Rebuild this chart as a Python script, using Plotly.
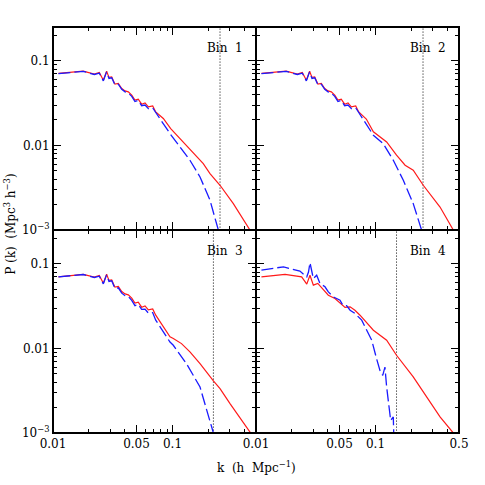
import numpy as np
import plotly.graph_objects as go
from plotly.subplots import make_subplots

# low-k part shared by bins 1-3
k_lo = [0.0111, 0.0179, 0.0222, 0.0244, 0.0264, 0.0281, 0.0294, 0.031, 0.033, 0.0352,
        0.0376, 0.0401, 0.0427, 0.0456, 0.0485, 0.0517, 0.0552, 0.0589, 0.0628, 0.0683, 0.0724]

# Bin 1
k1_red = k_lo + [0.0838, 0.0966, 0.1155, 0.1447, 0.181, 0.206, 0.25, 0.323, 0.445, 0.52]
p1_red = [0.071, 0.0755, 0.0697, 0.073, 0.059, 0.0755, 0.0637, 0.0647, 0.053, 0.054,
          0.0471, 0.0441, 0.043, 0.0393, 0.0343, 0.0352, 0.0307, 0.0318, 0.0286, 0.0293, 0.0249,
          0.0208, 0.0158, 0.0121, 0.00877, 0.0061, 0.00465, 0.00338, 0.00205, 0.001, 0.00078]
k1_blue = k_lo + [0.0953, 0.1155, 0.14, 0.17, 0.206, 0.242, 0.25]
p1_blue = [0.0705, 0.075, 0.069, 0.0715, 0.058, 0.074, 0.062, 0.063, 0.052, 0.053,
           0.046, 0.043, 0.0415, 0.038, 0.033, 0.034, 0.0295, 0.030, 0.0272, 0.0278, 0.0245,
           0.0138, 0.0096, 0.00668, 0.00424, 0.00225, 0.001, 0.0008]

# Bin 2
k2_red = k_lo + [0.0838, 0.096, 0.124, 0.150, 0.177, 0.207, 0.251, 0.347, 0.448, 0.52]
p2_red = [0.071, 0.0755, 0.0697, 0.073, 0.059, 0.0755, 0.0637, 0.0647, 0.053, 0.054,
          0.0471, 0.0441, 0.043, 0.0393, 0.0343, 0.0352, 0.0307, 0.0318, 0.0286, 0.0293, 0.0249,
          0.0205, 0.0145, 0.011, 0.00766, 0.00583, 0.0051, 0.00338, 0.00187, 0.001, 0.00075]
k2_blue = k_lo + [0.096, 0.116, 0.141, 0.171, 0.207, 0.243, 0.25]
p2_blue = [0.0705, 0.075, 0.069, 0.0715, 0.058, 0.074, 0.062, 0.063, 0.052, 0.053,
           0.046, 0.043, 0.0415, 0.038, 0.033, 0.034, 0.0295, 0.030, 0.0272, 0.0278, 0.0245,
           0.0132, 0.0105, 0.00668, 0.00387, 0.00205, 0.001, 0.0008]

# Bin 3
k3_red = k_lo + [0.0953, 0.1016, 0.119, 0.14, 0.17, 0.22, 0.25, 0.303, 0.445, 0.52]
p3_red = [0.0702, 0.075, 0.0697, 0.073, 0.059, 0.0755, 0.0637, 0.0647, 0.053, 0.054,
          0.0471, 0.0441, 0.043, 0.0393, 0.0343, 0.0352, 0.0307, 0.0318, 0.0286, 0.0293, 0.0247,
          0.0137, 0.0131, 0.0114, 0.0091, 0.0066, 0.00412, 0.00335, 0.00223, 0.001, 0.00075]
k3_blue = k_lo + [0.0953, 0.1016, 0.131, 0.17, 0.213, 0.22, 0.225]
p3_blue = [0.07, 0.0748, 0.069, 0.0715, 0.058, 0.074, 0.062, 0.063, 0.051, 0.052,
           0.045, 0.042, 0.041, 0.037, 0.032, 0.033, 0.029, 0.0292, 0.0262, 0.0265, 0.0216,
           0.0119, 0.0109, 0.0066, 0.0035, 0.00118, 0.001, 0.0008]

# Bin 4
k4_red = [0.0111, 0.0175, 0.0241, 0.0266, 0.0283, 0.0302, 0.0329, 0.0366, 0.0403, 0.0458,
          0.0505, 0.0556, 0.0613, 0.0673, 0.0742, 0.096, 0.124, 0.150, 0.207, 0.268, 0.347, 0.448, 0.52]
p4_red = [0.0702, 0.075, 0.0702, 0.0575, 0.0734, 0.056, 0.0586, 0.0489, 0.0426, 0.0389,
          0.034, 0.0305, 0.031, 0.0283, 0.0247, 0.0164, 0.0125, 0.0083, 0.0046, 0.00267, 0.00155, 0.001, 0.00078]
k4_blue = [0.0111, 0.017, 0.0233, 0.0266, 0.0275, 0.0283, 0.0302, 0.0322, 0.0343, 0.0378,
           0.0403, 0.0443, 0.0505, 0.0532, 0.0573, 0.0613, 0.0673, 0.0767, 0.0845, 0.093,
           0.102, 0.109, 0.115, 0.12, 0.124, 0.132, 0.134, 0.141, 0.143, 0.143]
p4_blue = [0.0842, 0.0922, 0.082, 0.0702, 0.08, 0.103, 0.067, 0.0734, 0.0586, 0.0535,
           0.0466, 0.0407, 0.0372, 0.0325, 0.032, 0.0283, 0.0259, 0.0216, 0.0164, 0.0125,
           0.0076, 0.0055, 0.0048, 0.006, 0.0035, 0.00186, 0.00141, 0.00155, 0.001, 0.0007]

k_red = [k1_red, k2_red, k3_red, k4_red]
p_red = [p1_red, p2_red, p3_red, p4_red]
k_blue = [k1_blue, k2_blue, k3_blue, k4_blue]
p_blue = [p1_blue, p2_blue, p3_blue, p4_blue]
k_cut = [0.25, 0.25, 0.22, 0.15]
bins = ["Bin 1", "Bin 2", "Bin 3", "Bin 4"]

x_major = [0.01, 0.05, 0.1, 0.5]
x_minor = [0.02, 0.03, 0.04, 0.06, 0.07, 0.08, 0.09, 0.2, 0.3, 0.4]
y_major = [0.001, 0.01, 0.1]
y_major_text = ["10<sup>\u22123</sup>", "0.01", "0.1"]
y_minor = [m * 10.0 ** e for e in (-3, -2, -1) for m in range(2, 10)]

fnt = "DejaVu Serif"
fig = make_subplots(rows=2, cols=2, horizontal_spacing=0, vertical_spacing=0)

for i in range(4):
    r, c = i // 2 + 1, i % 2 + 1
    fig.add_trace(go.Scatter(x=[k_cut[i], k_cut[i]], y=[1e-4, 1], mode="lines",
                             line=dict(color="black", width=1, dash="1px,2px")), row=r, col=c)
    fig.add_trace(go.Scatter(x=k_red[i], y=p_red[i], mode="lines",
                             line=dict(color="#ff1a1a", width=1.2)), row=r, col=c)
    fig.add_trace(go.Scatter(x=k_blue[i], y=p_blue[i], mode="lines",
                             line=dict(color="#1a1aff", width=1.3, dash="12px,4px")), row=r, col=c)
    xn = "x" if i == 0 else "x%d" % (i + 1)
    yn = "y" if i == 0 else "y%d" % (i + 1)
    fig.add_annotation(text=bins[i].replace(" ", " \u00a0"), x=0.945, y=0.895,
                       xref=xn + " domain", yref=yn + " domain", xanchor="right", yanchor="middle",
                       showarrow=False, font=dict(size=12))
    # panel frame, so shared edges do not double up
    fig.add_shape(type="rect", x0=0, x1=1, y0=0, y1=1, xref=xn + " domain", yref=yn + " domain",
                  line=dict(color="black", width=2), layer="above")

fig.update_xaxes(type="log", range=[-2, np.log10(0.5)], tickmode="array", tickvals=x_major,
                 ticktext=["0.01", "0.05", "0.1", "0.5"], ticks="inside", ticklen=8, tickwidth=1,
                 tickcolor="black", showline=True, linewidth=1, linecolor="black", mirror="ticks",
                 showgrid=False, zeroline=False,
                 minor=dict(tickmode="array", tickvals=x_minor, ticks="inside", ticklen=4,
                            tickwidth=1, tickcolor="black", showgrid=False))
fig.update_yaxes(type="log", range=[-3, -0.6], tickmode="array", tickvals=y_major,
                 ticktext=y_major_text, ticks="inside", ticklen=8, tickwidth=1,
                 tickcolor="black", showline=True, linewidth=1, linecolor="black", mirror="ticks",
                 showgrid=False, zeroline=False,
                 minor=dict(tickmode="array", tickvals=y_minor, ticks="inside", ticklen=4,
                            tickwidth=1, tickcolor="black", showgrid=False))
fig.update_xaxes(showticklabels=False, row=1)
fig.update_xaxes(ticktext=["0.01", "0.05", "0.1", ""], row=2, col=1)
fig.update_yaxes(showticklabels=False, col=2)

fig.add_annotation(text="P (k) \u00a0(Mpc<sup>3</sup> h<sup>\u22123</sup>)", x=-0.106, y=0.515,
                   xref="paper", yref="paper", textangle=-90, showarrow=False,
                   xanchor="center", yanchor="middle", font=dict(size=12))
fig.add_annotation(text="k \u00a0(h \u00a0Mpc<sup>\u22121</sup>)", x=0.5, y=-0.084,
                   xref="paper", yref="paper", showarrow=False,
                   xanchor="center", yanchor="middle", font=dict(size=12))

fig.update_layout(width=485, height=485, margin=dict(l=53, r=26, t=27, b=52),
                  showlegend=False, plot_bgcolor="white", paper_bgcolor="white",
                  font=dict(family=fnt, size=12, color="black"))
# drop the default page margin so the figure sits at the window's corner
fig.write_html("out.html", config={"displayModeBar": False},
               post_script="document.body.style.margin='0';")
